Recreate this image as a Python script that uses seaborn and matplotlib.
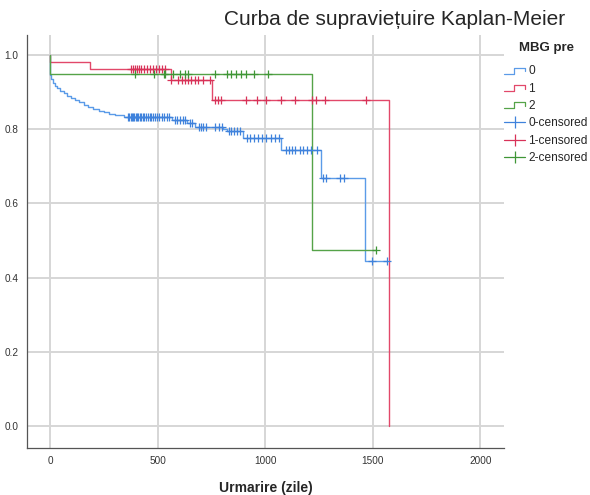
import numpy as np
import pandas as pd
import matplotlib
matplotlib.use("Agg")
import matplotlib.pyplot as plt
import seaborn as sns
from matplotlib.lines import Line2D
from matplotlib.legend_handler import HandlerBase
from matplotlib import font_manager

# ---------------- data ----------------
groups = ["0", "1", "2"]

# group 0: step function (time, survival)
t0 = [0, 1, 6, 12, 20, 30, 45, 62, 80, 98, 115, 135, 155, 175, 200, 225, 250, 275,
      300, 345, 568, 636, 672, 806, 822, 898, 1075, 1258, 1462, 1566]
s0 = [1.0, 0.945, 0.935, 0.925, 0.917, 0.910, 0.903, 0.897, 0.890, 0.884, 0.879,
      0.873, 0.866, 0.860, 0.855, 0.850, 0.845, 0.840, 0.837, 0.834, 0.826, 0.816,
      0.807, 0.800, 0.795, 0.777, 0.745, 0.669, 0.446, 0.446]
c0 = [362, 368, 374, 380, 386, 392, 398, 404, 410, 417, 424, 431, 438, 446, 454,
      462, 470, 478, 488, 498, 508, 518, 530, 542, 553,
      580, 592, 605, 618, 628, 650, 660, 690, 700, 712, 724,
      765, 785, 800, 830, 842, 855, 868, 882,
      915, 930, 948, 965, 985, 1005, 1025, 1045, 1062,
      1095, 1110, 1125, 1140, 1160, 1175, 1195, 1215, 1240,
      1268, 1285, 1350, 1365, 1495, 1566]

# group 1
t1 = [0, 1, 184, 561, 753, 1575, 1576]
s1 = [1.0, 0.982, 0.961, 0.933, 0.878, 0.0, 0.0]
c1 = [375, 386, 396, 405, 414, 424, 436, 448, 462, 476, 490, 505, 520, 534,
      564, 595, 611, 626, 641, 657, 672, 688, 711, 742,
      765, 781, 793, 913, 962, 1006, 1075, 1140, 1218, 1238, 1277, 1470]

# group 2
t2 = [0, 1, 1219, 1517]
s2 = [1.0, 0.949, 0.474, 0.474]
c2 = [394, 483, 527, 536, 569, 603, 626, 641, 765, 820, 843, 866, 889, 913,
      948, 1013, 1517]

x_ticks = [0, 500, 1000, 1500, 2000]
y_ticks = [0.0, 0.2, 0.4, 0.6, 0.8, 1.0]

title = "Curba de supraviețuire Kaplan-Meier"
xlabel = "Urmarire (zile)"
legend_title = "MBG pre"

line_colors = {"0": "#5b9be8", "1": "#e2486a", "2": "#55a348"}
cens_colors = {"0": "#3f82dc", "1": "#d83258", "2": "#3f9636"}

# ---------------- build tables ----------------
steps = pd.concat([
    pd.DataFrame({"t": t0, "S": s0, "g": "0"}),
    pd.DataFrame({"t": t1, "S": s1, "g": "1"}),
    pd.DataFrame({"t": t2, "S": s2, "g": "2"}),
], ignore_index=True)


def surv_at(ts, ss, x):
    idx = np.searchsorted(np.asarray(ts), x, side="right") - 1
    return np.asarray(ss)[idx]


cens = pd.concat([
    pd.DataFrame({"t": c0, "S": surv_at(t0, s0, c0), "g": "0"}),
    pd.DataFrame({"t": c1, "S": surv_at(t1, s1, c1), "g": "1"}),
    pd.DataFrame({"t": c2, "S": surv_at(t2, s2, c2), "g": "2"}),
], ignore_index=True)

# ---------------- fonts ----------------
FAM = ["Liberation Sans", "DejaVu Sans"]


def fp(size, weight="normal"):
    return font_manager.FontProperties(family=FAM, size=size, weight=weight)


# ---------------- figure ----------------
sns.set_style("white")
fig = plt.figure(figsize=(5.9, 4.95), dpi=100)
ax = fig.add_axes([0.045, 0.0955, 0.809, 0.834])

for x in x_ticks:
    ax.axvline(x, color="#d6d6d6", lw=1.4, zorder=0)
for y in y_ticks:
    ax.axhline(y, color="#d6d6d6", lw=1.4, zorder=0)

sns.lineplot(data=steps, x="t", y="S", hue="g", palette=line_colors,
             drawstyle="steps-post", estimator=None, sort=False,
             linewidth=1.0, legend=False, ax=ax)
for g in groups:
    sub = cens[cens.g == g]
    sns.scatterplot(data=sub, x="t", y="S", color=cens_colors[g], marker="+",
                    s=40, linewidth=0.9, legend=False, ax=ax, zorder=3)

ax.set_xlim(-110, 2110)
ax.set_ylim(-0.058, 1.054)
ax.set_xticks(x_ticks)
ax.set_yticks(y_ticks)
ax.set_xticklabels([str(v) for v in x_ticks], fontproperties=fp(7.2), color="#333333")
ax.set_yticklabels([f"{v:.1f}" for v in y_ticks], fontproperties=fp(7.2), color="#333333")
ax.tick_params(length=0, pad=6)
ax.set_xlabel("")
ax.set_ylabel("")
for side in ["top", "right"]:
    ax.spines[side].set_visible(False)
for side in ["left", "bottom"]:
    ax.spines[side].set_color("#555555")
    ax.spines[side].set_linewidth(0.9)

fig.text(0.451, 0.014, xlabel, ha="center", va="center", fontproperties=fp(10, "bold"))
fig.text(0.668, 0.961, title, ha="center", va="center", family=FAM, fontsize=15)
fig.text(0.927, 0.903, legend_title, ha="center", va="center", fontproperties=fp(9.5, "bold"))


class HandlerStep(HandlerBase):
    def create_artists(self, legend, orig_handle, xdescent, ydescent,
                       width, height, fontsize, trans):
        x0, w = -xdescent, width
        y0, h = -ydescent, height
        lo = y0 + 0.1 * h
        hi = y0 + 0.8 * h
        xs = [x0, x0 + 0.45 * w, x0 + 0.45 * w, x0 + w, x0 + w]
        ys = [lo, lo, hi, hi, lo + 0.25 * h]
        ln = Line2D(xs, ys, color=orig_handle.get_color(), lw=0.9, transform=trans)
        return [ln]


handles, labels = [], []
for g in groups:
    handles.append(Line2D([], [], color=line_colors[g]))
    labels.append(g)
for g in groups:
    handles.append(Line2D([], [], color=cens_colors[g], marker="|", markersize=9,
                          lw=0.9, markeredgewidth=0.9))
    labels.append(f"{g}-censored")
hmap = {h: HandlerStep() for h in handles[:3]}
leg = fig.legend(handles, labels, handler_map=hmap, loc="upper left",
                 bbox_to_anchor=(0.855, 0.868), frameon=False,
                 prop=fp(8.6), handlelength=1.75,
                 handletextpad=0.25, labelspacing=0.45, borderaxespad=0,
                 borderpad=0)

fig.savefig("out.png", dpi=100)
